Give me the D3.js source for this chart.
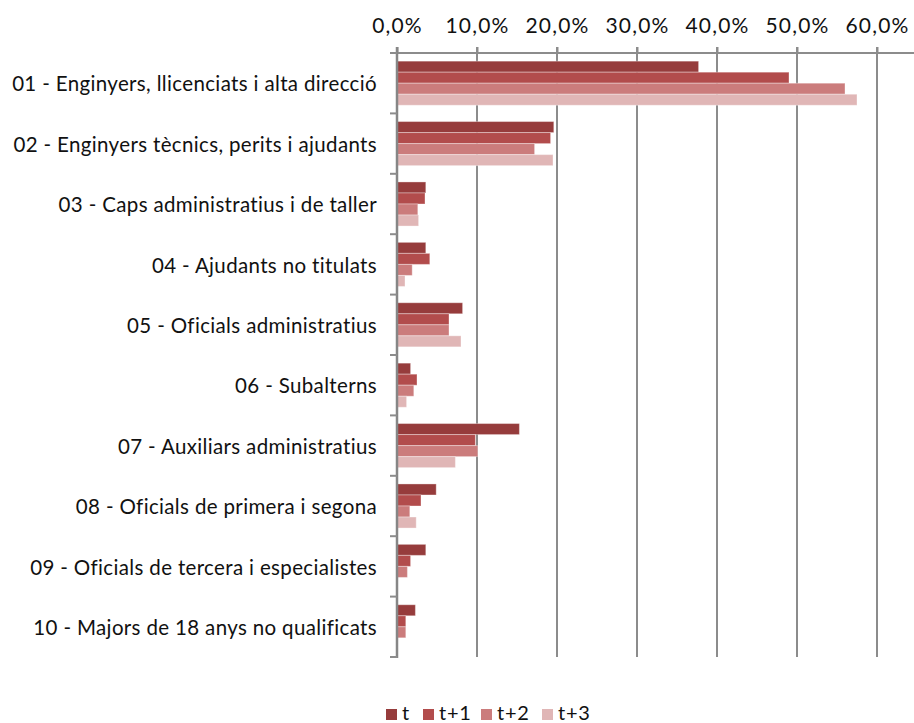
<!DOCTYPE html>
<html>
<head>
<meta charset="utf-8">
<script src="https://cdn.jsdelivr.net/npm/d3@7"></script>
<style>
  body { margin: 0; background: #fff; }
  text { font-family: Lato, "Noto Sans", sans-serif; font-weight: 400; fill: #111; }
</style>
</head>
<body>
<svg class="chart" width="914" height="723"></svg>
<script>
// categories
var categories = [
    "01 - Enginyers, llicenciats i alta direcció",
    "02 - Enginyers tècnics, perits i ajudants",
    "03 - Caps administratius i de taller",
    "04 - Ajudants no titulats",
    "05 - Oficials administratius",
    "06 - Subalterns",
    "07 - Auxiliars administratius",
    "08 - Oficials de primera i segona",
    "09 - Oficials de tercera i especialistes",
    "10 - Majors de 18 anys no qualificats"
];

// series (share, %)
var seriesNames = ["t", "t+1", "t+2", "t+3"];
var t_values  = [37.7, 19.6, 3.6, 3.6, 8.2, 1.7, 15.3, 4.9, 3.6, 2.3];
var t1_values = [49.0, 19.2, 3.5, 4.1, 6.5, 2.5, 9.8, 3.0, 1.7, 1.1];
var t2_values = [56.0, 17.2, 2.6, 1.9, 6.5, 2.1, 10.1, 1.6, 1.3, 1.1];
var t3_values = [57.5, 19.5, 2.7, 1.0, 8.0, 1.2, 7.3, 2.4, 0, 0];

var tickValues = [0, 10, 20, 30, 40, 50, 60];

// color
var color = d3.scaleOrdinal()
    .domain(seriesNames)
    .range(["#963c3c", "#b24c4c", "#cb7c7c", "#e0b6b6"]);

var seriesValues = [t_values, t1_values, t2_values, t3_values];

var svg = d3.select("svg.chart");

var x = d3.scaleLinear().domain([0, 60]).range([397, 877]);

var y = d3.scaleBand()
    .domain(categories)
    .range([53, 657])
    .paddingInner(0.27)
    .paddingOuter(0.135);

var y1 = d3.scaleBand()
    .domain(seriesNames)
    .range([0, y.bandwidth()]);

// grid lines
svg.append("g").selectAll("line")
    .data(tickValues.slice(1))
    .enter().append("line")
    .attr("x1", function(d){ return x(d); })
    .attr("x2", function(d){ return x(d); })
    .attr("y1", 47)
    .attr("y2", 657)
    .attr("stroke", "#8c8c8c")
    .attr("stroke-width", 2);

// bars
var groups = svg.append("g").selectAll("g")
    .data(categories)
    .enter().append("g")
    .attr("transform", function(d){ return "translate(0," + y(d) + ")"; });

groups.selectAll("rect")
    .data(function(d, i){
        return seriesNames.map(function(s, j){ return {s: s, v: seriesValues[j][i]}; });
    })
    .enter().append("rect")
    .filter(function(d){ return d.v > 0; })
    .attr("x", x(0))
    .attr("y", function(d){ return y1(d.s); })
    .attr("width", function(d){ return x(d.v) - x(0); })
    .attr("height", y1.bandwidth())
    .attr("fill", function(d){ return color(d.s); })
    .attr("stroke", "rgba(255,255,255,0.35)")
    .attr("stroke-width", 1);

// top axis
var xAxis = svg.append("g")
    .attr("transform", "translate(0,53)")
    .call(d3.axisTop(x).tickValues(tickValues)
        .tickFormat(function(d){ return d.toFixed(1).replace(".", ",") + "%"; })
        .tickSize(6).tickPadding(14));
xAxis.select(".domain").remove();
xAxis.selectAll(".tick line").attr("stroke", "#8c8c8c").attr("stroke-width", 2);
xAxis.selectAll(".tick text")
    .attr("font-size", 21)
    .attr("letter-spacing", 1.2)
    .style("font-family", "Lato, sans-serif")
    .style("fill", "#111");

svg.append("line")
    .attr("x1", 390).attr("x2", 914)
    .attr("y1", 53).attr("y2", 53)
    .attr("stroke", "#8c8c8c").attr("stroke-width", 2);

// left axis
svg.append("line")
    .attr("x1", 397).attr("x2", 397)
    .attr("y1", 47).attr("y2", 658)
    .attr("stroke", "#868686").attr("stroke-width", 2.5);

var step = y.step();
svg.append("g").selectAll("line")
    .data(d3.range(categories.length + 1))
    .enter().append("line")
    .attr("x1", 390).attr("x2", 397)
    .attr("y1", function(i){ return 53 + i * step; })
    .attr("y2", function(i){ return 53 + i * step; })
    .attr("stroke", "#8c8c8c").attr("stroke-width", 2);

// category labels
svg.append("g").selectAll("text")
    .data(categories)
    .enter().append("text")
    .attr("x", 377)
    .attr("y", function(d){ return y(d) + y.bandwidth() / 2; })
    .attr("dy", "0.4em")
    .attr("text-anchor", "end")
    .attr("font-size", 20.5)
    .attr("letter-spacing", 0.35)
    .text(function(d){ return d; });

// legend
var legendX = [386, 423, 481, 542];
var legend = svg.append("g").selectAll("g")
    .data(seriesNames)
    .enter().append("g")
    .attr("transform", function(d, i){ return "translate(" + legendX[i] + ",709)"; });

legend.append("rect")
    .attr("width", 11).attr("height", 11)
    .attr("fill", function(d){ return color(d); });

legend.append("text")
    .attr("x", 16).attr("y", 11)
    .attr("font-size", 20)
    .attr("letter-spacing", 0.8)
    .text(function(d){ return d; });
</script>
</body>
</html>
